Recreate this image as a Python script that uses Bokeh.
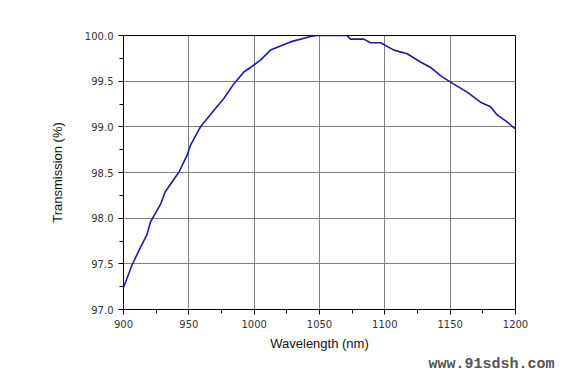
from bokeh.plotting import figure
from bokeh.models import Range1d, FixedTicker, Title, CustomJSTickFormatter
from bokeh.embed import file_html
from bokeh.resources import INLINE

wavelength = [900, 906.6, 913, 918, 920.7, 928.3, 932, 939.8, 942.3, 948.7, 951.3, 958.9,
              969.1, 976.8, 984.4, 992.1, 997.2, 1004.8, 1012.5, 1027.8, 1043.1, 1048,
              1060, 1071, 1073.7, 1083.9, 1089, 1096.7, 1106.9, 1117.1, 1127.3, 1135,
              1142.6, 1150.3, 1163, 1173.2, 1180.9, 1186, 1193, 1198.7, 1200]
transmission = [97.24, 97.49, 97.68, 97.82, 97.96, 98.15, 98.29, 98.45, 98.50, 98.69, 98.80, 99.00,
                99.18, 99.31, 99.47, 99.60, 99.65, 99.73, 99.84, 99.93, 99.99, 100.0,
                100.0, 100.0, 99.96, 99.96, 99.92, 99.92, 99.84, 99.80, 99.71, 99.65,
                99.56, 99.49, 99.38, 99.27, 99.22, 99.13, 99.06, 98.99, 98.98]
x_ticks = [900, 950, 1000, 1050, 1100, 1150, 1200]
y_ticks = [97.0, 97.5, 98.0, 98.5, 99.0, 99.5, 100.0]

p = figure(width=571, height=372, output_backend="svg", toolbar_location=None,
           x_range=Range1d(900, 1200), y_range=Range1d(97.0, 100.0),
           min_border_left=123, min_border_right=56, min_border_top=35, min_border_bottom=62)
p.background_fill_color = "white"
p.border_fill_color = "white"
p.outline_line_color = "black"
p.outline_line_width = 1

p.line(wavelength, transmission, line_color="#1a1aa8", line_width=1.6)

p.xaxis.ticker = FixedTicker(ticks=x_ticks, minor_ticks=list(range(900, 1201, 25)))
p.yaxis.ticker = FixedTicker(ticks=y_ticks, minor_ticks=[97 + 0.25 * i for i in range(13)])
p.yaxis.formatter = CustomJSTickFormatter(code="return tick.toFixed(1);")
for ax in (p.xaxis[0], p.yaxis[0]):
    ax.axis_line_color = "black"
    ax.major_tick_line_color = "black"
    ax.minor_tick_line_color = "black"
    ax.major_tick_in = 0
    ax.major_tick_out = 5
    ax.minor_tick_in = 0
    ax.minor_tick_out = 4
    ax.major_label_text_font = "DejaVu Sans"
    ax.major_label_text_font_size = "10px"
    ax.major_label_text_color = "#333333"
    ax.major_label_standoff = 5
    ax.axis_label_text_font = "Liberation Sans"
    ax.axis_label_text_font_size = "13px"
    ax.axis_label_text_font_style = "normal"
    ax.axis_label_text_color = "#111111"
p.xaxis.axis_label = "Wavelength (nm)"
p.yaxis.axis_label = "Transmission (%)"
p.xaxis.axis_label_standoff = 5
p.yaxis.axis_label_standoff = 17

p.xgrid.ticker = FixedTicker(ticks=x_ticks)
p.ygrid.ticker = FixedTicker(ticks=y_ticks)
p.grid.grid_line_color = "#808080"
p.grid.grid_line_alpha = 1.0
p.grid.grid_line_width = 1

p.add_layout(Title(text="www.91sdsh.com", align="left", offset=305, standoff=0,
                   text_font="Liberation Mono", text_font_size="15px", text_font_style="bold",
                   text_color="#555555"), "below")

open("out.html", "w").write(file_html(p, INLINE))
